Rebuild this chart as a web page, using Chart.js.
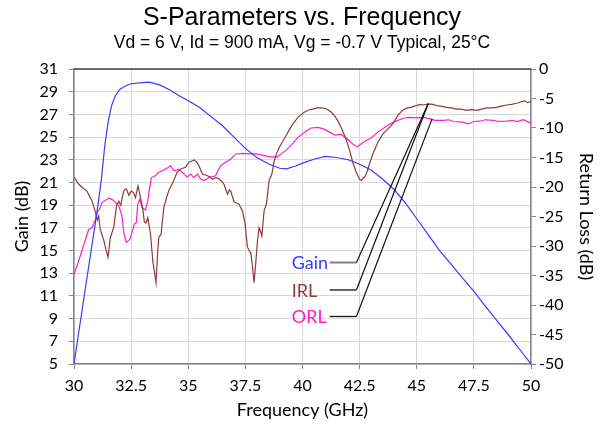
<!DOCTYPE html>
<html lang="en">
<head>
  <meta charset="UTF-8">
  <title>S-Parameters vs. Frequency</title>
  <script src="https://cdn.jsdelivr.net/npm/chart.js"></script>
  <style>
    html, body {
      margin: 0;
      padding: 0;
      background: #fff;
    }
    .wrap {
      width: 604px;
      height: 430px;
    }
  </style>
</head>
<body>
  <div class="wrap">
    <canvas id="spChart" width="604" height="430"></canvas>
  </div>

  <script>
    // Gain (left axis, dB)
    const gainFreq = [30.0, 30.5, 31.0, 31.2, 31.35, 31.5, 31.65, 31.8, 32.0, 32.25, 32.5, 33.0, 33.3, 33.75, 34.2, 34.6,
      35.0, 35.5, 36.0, 36.5, 37.0, 37.5, 38.0, 38.5, 39.0, 39.3, 39.7, 40.0, 40.5, 41.0, 41.5, 42.0, 42.5,
      43.0, 43.5, 44.0, 44.5, 45.0, 45.5, 46.0, 46.5, 47.0, 47.5, 48.0, 48.5, 49.0, 49.5, 50.0];
    const gainDb = [5.0, 11.7, 18.3, 21.3, 24.3, 26.4, 27.8, 28.6, 29.2, 29.5, 29.7, 29.8, 29.85, 29.6, 29.15, 28.65,
      28.2, 27.6, 26.8, 26.0, 25.0, 24.0, 23.2, 22.65, 22.25, 22.2, 22.45, 22.7, 23.05, 23.3, 23.2, 23.0, 22.6,
      22.1, 21.3, 20.4, 19.2, 17.8, 16.4, 15.0, 13.8, 12.6, 11.4, 10.1, 8.85, 7.6, 6.3, 5.0];

    // Input return loss (right axis, dB)
    const irlFreq = [30.00, 30.20, 30.40, 30.57, 30.79, 30.94, 31.02, 31.08, 31.15, 31.30, 31.40, 31.49, 31.59, 31.74,
      31.86, 31.96, 32.05, 32.12, 32.20, 32.29, 32.40, 32.50, 32.60, 32.69, 32.80, 32.90, 33.00, 33.08, 33.15, 33.23,
      33.35, 33.45, 33.59, 33.66, 33.71, 33.81, 33.93, 34.05, 34.15, 34.37, 34.51, 34.66, 34.89, 35.03, 35.15, 35.25,
      35.35, 35.47, 35.62, 35.84, 35.95, 36.06, 36.20, 36.35, 36.50, 36.57, 36.65, 36.72, 36.80, 36.86, 37.00, 37.10,
      37.22, 37.37, 37.49, 37.59, 37.67, 37.74, 37.81, 37.88, 37.96, 38.03, 38.10, 38.16, 38.22, 38.32, 38.42, 38.54,
      38.66, 38.76, 38.87, 38.98, 39.19, 39.41, 39.60, 39.80, 40.09, 40.30, 40.45, 40.65, 40.81, 41.00, 41.11, 41.25,
      41.40, 41.55, 41.69, 41.80, 41.91, 42.06, 42.20, 42.35, 42.50, 42.58, 42.64, 42.72, 42.79, 42.93, 43.08, 43.30,
      43.52, 43.73, 43.95, 44.17, 44.35, 44.47, 44.60, 44.75, 44.90, 45.00, 45.15, 45.30, 45.50, 45.70, 45.87, 46.05,
      46.30, 46.50, 46.74, 46.95, 47.18, 47.40, 47.62, 47.85, 48.06, 48.30, 48.49, 48.70, 48.93, 49.15, 49.37, 49.55,
      49.73, 49.85, 50.00];
    const irlDb = [-18.3, -19.5, -20.2, -20.7, -22.4, -24.3, -25.6, -24.9, -27.2, -29.0, -30.6, -31.9, -28.6, -26.8,
      -23.2, -22.4, -23.1, -21.6, -20.5, -20.3, -21.4, -20.7, -20.9, -21.8, -19.8, -21.6, -23.5, -25.9, -26.1, -25.2,
      -28.0, -32.6, -36.2, -31.0, -28.6, -28.0, -23.5, -21.8, -20.6, -18.9, -17.5, -17.0, -16.6, -15.8, -15.6, -15.4,
      -15.7, -16.4, -17.8, -18.1, -18.3, -18.7, -18.4, -18.6, -19.2, -19.6, -20.5, -21.2, -20.5, -20.7, -22.5, -22.7,
      -22.9, -24.0, -26.3, -30.2, -30.8, -31.2, -33.4, -36.2, -32.6, -29.1, -26.9, -27.5, -28.3, -24.0, -22.9, -18.9,
      -17.8, -15.6, -14.3, -13.3, -11.9, -10.4, -9.2, -8.2, -7.3, -6.9, -6.8, -6.6, -6.6, -6.7, -6.9, -7.3,
      -7.9, -8.8, -9.9, -10.9, -11.9, -13.8, -15.8, -17.5, -18.7, -18.9, -18.5, -18.3, -17.8, -16.1, -14.4, -12.4,
      -11.0, -10.2, -9.3, -7.9, -7.1, -6.8, -6.6, -6.5, -6.3, -6.2, -6.0, -6.1, -5.9, -6.0, -6.2, -6.3,
      -6.5, -6.6, -6.8, -6.8, -7.0, -6.9, -7.0, -6.8, -6.6, -6.6, -6.5, -6.3, -6.1, -6.0, -5.8, -5.6,
      -5.4, -5.7, -5.5];

    // Output return loss (right axis, dB)
    const orlFreq = [30.00, 30.13, 30.35, 30.50, 30.64, 30.79, 30.94, 31.00, 31.12, 31.23, 31.37, 31.52, 31.66, 31.81,
      31.96, 32.10, 32.18, 32.29, 32.44, 32.54, 32.64, 32.73, 32.79, 32.88, 32.98, 33.13, 33.23, 33.31, 33.39, 33.56,
      33.71, 33.90, 34.07, 34.22, 34.37, 34.58, 34.80, 34.95, 35.11, 35.25, 35.40, 35.55, 35.69, 35.91, 36.20, 36.30,
      36.42, 36.64, 36.86, 37.08, 37.37, 37.66, 37.96, 38.25, 38.54, 38.90, 39.27, 39.56, 39.80, 40.09, 40.38, 40.67,
      40.96, 41.18, 41.40, 41.69, 41.98, 42.20, 42.39, 42.53, 42.71, 43.00, 43.30, 43.59, 43.88, 44.17, 44.47, 44.69,
      45.06, 45.30, 45.57, 45.80, 46.16, 46.40, 46.60, 47.00, 47.25, 47.50, 47.76, 48.00, 48.35, 48.60, 48.93, 49.20,
      49.40, 49.66, 50.00];
    const orlDb = [-34.8, -33.4, -30.8, -28.9, -27.2, -26.9, -25.5, -24.3, -23.8, -22.6, -22.3, -21.9, -22.1, -22.6,
      -23.2, -24.9, -27.7, -29.4, -28.9, -27.7, -26.3, -26.0, -22.9, -22.1, -23.5, -23.9, -22.3, -20.1, -18.4, -18.1,
      -17.5, -17.2, -16.8, -16.4, -17.2, -17.0, -17.7, -18.3, -17.8, -18.4, -17.8, -18.7, -18.9, -18.4, -18.1, -17.2,
      -16.4, -15.8, -15.3, -14.4, -14.3, -14.4, -14.4, -14.6, -14.9, -14.9, -13.8, -12.7, -11.6, -10.7, -10.0, -9.9,
      -10.2, -10.7, -11.2, -11.1, -11.9, -12.7, -13.2, -12.8, -12.3, -11.7, -10.7, -9.9, -9.2, -8.7, -8.3, -8.2,
      -8.3, -8.2, -8.45, -8.7, -8.7, -8.6, -8.9, -9.0, -9.3, -8.9, -8.85, -8.6, -8.7, -8.9, -8.85, -8.7,
      -8.9, -8.6, -9.2];

    // callout labels (x in GHz, y on the return loss axis)
    const calloutNames = ['Gain', 'IRL', 'ORL'];
    const calloutTextX = 39.53;
    const calloutY = [-32.8, -37.45, -41.95];
    const calloutElbowX = [41.19, 42.36];
    const calloutTipX = [45.5, 45.5, 45.67];
    const calloutTipY = [-5.9, -5.9, -8.45];

    const gainColor = '#3a3aff';
    const irlColor = '#8e3b3b';
    const orlColor = '#ff1ec8';
    const labelColors = [gainColor, irlColor, orlColor];

    const toPoints = (xs, ys) => xs.map((x, i) => ({ x: x, y: ys[i] }));

    const calloutPlugin = {
      id: 'callouts',
      afterDatasetsDraw(chart) {
        const ctx = chart.ctx;
        const xs = chart.scales.x;
        const yr = chart.scales.yRight;
        const x0 = xs.getPixelForValue(calloutTextX);
        const e0 = xs.getPixelForValue(calloutElbowX[0]);
        const e1 = xs.getPixelForValue(calloutElbowX[1]);
        ctx.save();
        calloutNames.forEach((name, i) => {
          const y = yr.getPixelForValue(calloutY[i]);
          ctx.font = '18px Lato, sans-serif';
          ctx.fillStyle = labelColors[i];
          ctx.textAlign = 'left';
          ctx.textBaseline = 'middle';
          ctx.fillText(name, x0, y + 1);

          ctx.lineWidth = i === 0 ? 2 : 1.3;
          ctx.strokeStyle = i === 0 ? '#808080' : '#111';
          ctx.beginPath();
          ctx.moveTo(e0, y);
          ctx.lineTo(e1, y);
          ctx.stroke();

          ctx.lineWidth = 1.2;
          ctx.strokeStyle = '#111';
          ctx.beginPath();
          ctx.moveTo(e1, y);
          ctx.lineTo(xs.getPixelForValue(calloutTipX[i]), yr.getPixelForValue(calloutTipY[i]));
          ctx.stroke();
        });
        ctx.restore();
      }
    };

    const framePlugin = {
      id: 'frame',
      afterDraw(chart) {
        const { left, right, top } = chart.chartArea;
        const ctx = chart.ctx;
        ctx.save();
        ctx.strokeStyle = '#3f3f3f';
        ctx.lineWidth = 1.5;
        ctx.beginPath();
        ctx.moveTo(left, top);
        ctx.lineTo(right, top);
        ctx.stroke();
        ctx.restore();
      }
    };

    const tickFont = { family: 'Lato, sans-serif', size: 16 };
    const axisTitleFont = { family: 'Lato, sans-serif', size: 18 };

    new Chart(document.getElementById('spChart').getContext('2d'), {
      type: 'line',
      data: {
        datasets: [
          { label: 'Gain', data: toPoints(gainFreq, gainDb), yAxisID: 'yLeft', borderColor: gainColor },
          { label: 'IRL', data: toPoints(irlFreq, irlDb), yAxisID: 'yRight', borderColor: irlColor },
          { label: 'ORL', data: toPoints(orlFreq, orlDb), yAxisID: 'yRight', borderColor: orlColor }
        ]
      },
      options: {
        responsive: false,
        animation: false,
        layout: { padding: 0 },
        elements: {
          line: { borderWidth: 1.2, tension: 0, fill: false },
          point: { radius: 0, hoverRadius: 0 }
        },
        plugins: {
          legend: { display: false },
          tooltip: { enabled: false },
          title: {
            display: true,
            text: 'S-Parameters vs. Frequency',
            color: '#000',
            font: { family: '"Liberation Sans", Arial, sans-serif', size: 25, weight: 'normal' },
            padding: { top: 3, bottom: 0 }
          },
          subtitle: {
            display: true,
            text: 'Vd = 6 V, Id = 900 mA, Vg = -0.7 V Typical, 25°C',
            color: '#000',
            font: { family: '"Liberation Sans", Arial, sans-serif', size: 17.5 },
            padding: { top: 0, bottom: 15 }
          }
        },
        scales: {
          x: {
            type: 'linear',
            min: 30,
            max: 50,
            afterFit: (s) => { s.height = 66; },
            ticks: {
              stepSize: 2.5,
              autoSkip: false,
              maxRotation: 0,
              padding: 7,
              color: '#000',
              font: tickFont,
              callback: (v) => String(v)
            },
            grid: { color: '#d9d9d9', tickColor: '#868686', tickLength: 5 },
            border: { color: '#868686', width: 1.5 },
            title: { display: true, text: 'Frequency (GHz)', color: '#000', font: axisTitleFont, padding: { top: 0, bottom: 9 } }
          },
          yLeft: {
            type: 'linear',
            position: 'left',
            min: 5,
            max: 31,
            afterFit: (s) => { s.width = 74; },
            ticks: { stepSize: 2, padding: 11, color: '#000', font: tickFont },
            grid: { color: '#d9d9d9', tickColor: '#868686', tickLength: 5 },
            border: { color: '#868686', width: 1.5 },
            title: { display: true, text: 'Gain (dB)', color: '#000', font: axisTitleFont, padding: { top: 11, bottom: 0 } }
          },
          yRight: {
            type: 'linear',
            position: 'right',
            min: -50,
            max: 0,
            afterFit: (s) => { s.width = 73; },
            ticks: { stepSize: 5, padding: 3, color: '#000', font: tickFont },
            grid: { drawOnChartArea: false, tickColor: '#868686', tickLength: 5 },
            border: { color: '#868686', width: 1.5 },
            title: { display: true, text: 'Return Loss (dB)', color: '#000', font: axisTitleFont, padding: { top: 7, bottom: 0 } }
          }
        }
      },
      plugins: [calloutPlugin, framePlugin]
    });
  </script>
</body>
</html>
